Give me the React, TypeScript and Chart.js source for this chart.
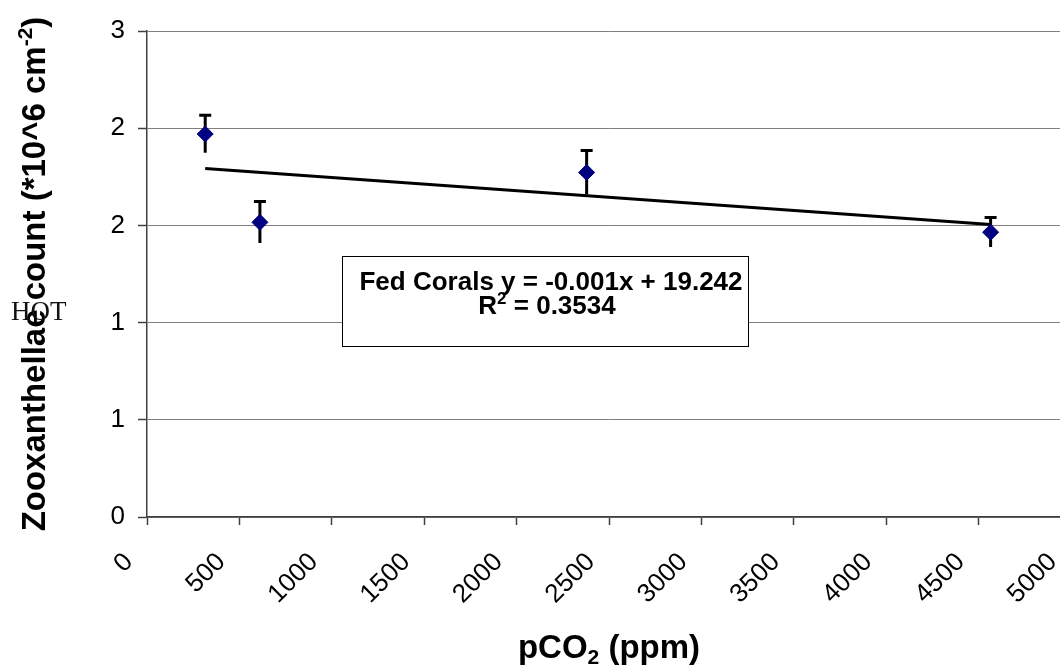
import React, { useEffect, useRef } from 'react';
import { Chart, registerables } from 'chart.js';

Chart.register(...registerables);

// ---- data ----
const pco2Values = [315, 611, 2379, 4565];
const zooxCounts = [2.364, 1.819, 2.127, 1.758];
const zooxErrors = [0.116, 0.128, 0.136, 0.091];

const xTickValues = [0, 500, 1000, 1500, 2000, 2500, 3000, 3500, 4000, 4500, 5000];
const yTickValues = [0, 0.6, 1.2, 1.8, 2.4, 3];
const yTickLabels = ['0', '1', '1', '2', '2', '3'];

const seriesName = 'Fed Corals';
const equationText = 'Fed Corals y = -0.001x + 19.242';
const rSquaredParts = ['R', '2', ' = 0.3534'];
const yTitleParts = ['Zooxanthellae count (*10^6 cm', '-2', ')'];
const xTitleParts = ['pCO', '2', ' (ppm)'];
const strayLabel = 'HOT';

const SANS = '"Liberation Sans", Arial, Helvetica, sans-serif';
const SERIF = '"Liberation Serif", "Times New Roman", serif';

function linearFit(xs: number[], ys: number[]) {
  const n = xs.length;
  const mx = xs.reduce((a, b) => a + b, 0) / n;
  const my = ys.reduce((a, b) => a + b, 0) / n;
  let sxy = 0;
  let sxx = 0;
  for (let i = 0; i < n; i++) {
    sxy += (xs[i] - mx) * (ys[i] - my);
    sxx += (xs[i] - mx) * (xs[i] - mx);
  }
  const slope = sxy / sxx;
  return { slope, intercept: my - slope * mx };
}

const CANVAS_W = 1091;
const CANVAS_H = 667;

export default function App() {
  const ref = useRef<HTMLCanvasElement | null>(null);

  useEffect(() => {
    const canvas = ref.current;
    if (!canvas) return;

    const fit = linearFit(pco2Values, zooxCounts);
    const xMin = Math.min(...pco2Values);
    const xMax = Math.max(...pco2Values);
    const trendData = [
      { x: xMin, y: fit.intercept + fit.slope * xMin },
      { x: xMax, y: fit.intercept + fit.slope * xMax },
    ];

    const errorBarPlugin = {
      id: 'errorBars',
      beforeDatasetsDraw(chart: any) {
        const { ctx } = chart;
        const xs = chart.scales.x;
        const ys = chart.scales.y;
        ctx.save();
        ctx.strokeStyle = '#000';
        ctx.lineWidth = 3;
        ctx.lineCap = 'butt';
        for (let i = 0; i < pco2Values.length; i++) {
          const px = xs.getPixelForValue(pco2Values[i]);
          const top = ys.getPixelForValue(zooxCounts[i] + zooxErrors[i]);
          const bot = ys.getPixelForValue(zooxCounts[i] - zooxErrors[i]);
          ctx.beginPath();
          ctx.moveTo(px, top);
          ctx.lineTo(px, bot);
          ctx.moveTo(px - 6, top);
          ctx.lineTo(px + 6, top);
          ctx.stroke();
        }
        ctx.restore();
      },
    };

    const drawParts = (
      ctx: CanvasRenderingContext2D,
      parts: string[],
      cx: number,
      baseline: number,
      size: number,
      scriptShift: number
    ) => {
      const main = `bold ${size}px ${SANS}`;
      const small = `bold ${Math.round(size * 0.64)}px ${SANS}`;
      ctx.font = main;
      const w0 = ctx.measureText(parts[0]).width;
      const w2 = ctx.measureText(parts[2]).width;
      ctx.font = small;
      const w1 = ctx.measureText(parts[1]).width;
      let x = cx - (w0 + w1 + w2) / 2;
      ctx.textAlign = 'left';
      ctx.textBaseline = 'alphabetic';
      ctx.font = main;
      ctx.fillText(parts[0], x, baseline);
      x += w0;
      ctx.font = small;
      ctx.fillText(parts[1], x, baseline + scriptShift);
      x += w1;
      ctx.font = main;
      ctx.fillText(parts[2], x, baseline);
    };

    const textPlugin = {
      id: 'textDecor',
      afterDraw(chart: any) {
        const { ctx, chartArea } = chart;
        ctx.save();
        ctx.fillStyle = '#000';

        // equation box
        const bx = 342.5, by = 256.5, bw = 406, bh = 90;
        ctx.fillStyle = '#fff';
        ctx.fillRect(bx, by, bw, bh);
        ctx.strokeStyle = '#000';
        ctx.lineWidth = 1;
        ctx.strokeRect(bx, by, bw, bh);
        ctx.fillStyle = '#000';
        ctx.font = `bold 26px ${SANS}`;
        ctx.textAlign = 'center';
        ctx.textBaseline = 'alphabetic';
        ctx.fillText(equationText, 551, 290);
        drawParts(ctx, rSquaredParts, 547, 314, 26, -10);

        // x title
        const cx = (chartArea.left + chartArea.right) / 2;
        drawParts(ctx, xTitleParts, cx, 658, 33, 6);

        // y title (rotated)
        ctx.save();
        ctx.translate(45, (chartArea.top + chartArea.bottom) / 2);
        ctx.rotate(-Math.PI / 2);
        drawParts(ctx, yTitleParts, 0, 0, 33, -13);
        ctx.restore();

        // stray serif label
        ctx.font = `27px ${SERIF}`;
        ctx.textAlign = 'left';
        ctx.textBaseline = 'alphabetic';
        ctx.fillStyle = '#111';
        ctx.fillText(strayLabel, 11, 320);
        ctx.restore();
      },
    };

    const chart = new Chart(canvas, {
      type: 'scatter',
      data: {
        datasets: [
          {
            label: seriesName,
            data: pco2Values.map((x, i) => ({ x, y: zooxCounts[i] })),
            pointStyle: 'rectRot',
            pointRadius: 8,
            pointHoverRadius: 8,
            backgroundColor: '#000080',
            borderColor: '#000080',
            borderWidth: 1,
            showLine: false,
            order: 0,
          },
          {
            label: 'Linear trend',
            data: trendData,
            showLine: true,
            borderColor: '#000',
            borderWidth: 3,
            pointRadius: 0,
            pointHoverRadius: 0,
            fill: false,
            order: 1,
          },
        ],
      },
      options: {
        responsive: false,
        animation: false,
        devicePixelRatio: 1,
        events: [],
        layout: { padding: { top: 31, right: 20, bottom: 0, left: 0 } },
        plugins: { legend: { display: false }, tooltip: { enabled: false } },
        scales: {
          x: {
            type: 'linear',
            min: 0,
            max: 5000,
            afterBuildTicks: (s: any) => {
              s.ticks = xTickValues.map((v) => ({ value: v }));
            },
            afterFit: (s: any) => {
              s.height = 150;
              s.paddingLeft = 0;
              s.paddingRight = 0;
            },
            ticks: {
              autoSkip: false,
              minRotation: 45,
              maxRotation: 45,
              padding: 22,
              labelOffset: -18,
              color: '#000',
              font: { family: SANS, size: 26 },
              callback: (v: any) => String(v),
            },
            grid: {
              drawOnChartArea: false,
              drawTicks: true,
              tickLength: 8,
              tickColor: '#404040',
              tickWidth: 1.5,
            },
            border: { color: '#404040', width: 1.5 },
          },
          y: {
            type: 'linear',
            min: 0,
            max: 3,
            afterBuildTicks: (s: any) => {
              s.ticks = yTickValues.map((v) => ({ value: v }));
            },
            afterFit: (s: any) => {
              s.width = 147;
              s.paddingTop = 0;
              s.paddingBottom = 0;
            },
            ticks: {
              padding: 13,
              color: '#000',
              font: { family: SANS, size: 26 },
              callback: (_v: any, i: number) => yTickLabels[i],
            },
            grid: {
              color: '#808080',
              lineWidth: 1,
              drawTicks: true,
              tickLength: 9,
              tickColor: '#404040',
              tickWidth: 1.5,
            },
            border: { color: '#404040', width: 1.5 },
          },
        },
      },
      plugins: [errorBarPlugin, textPlugin],
    } as any);

    return () => chart.destroy();
  }, []);

  return (
    <div
      style={{
        position: 'absolute',
        left: 0,
        top: 0,
        width: 1060,
        height: 667,
        overflow: 'hidden',
        background: '#fff',
      }}
    >
      <canvas ref={ref} width={CANVAS_W} height={CANVAS_H} style={{ display: 'block' }} />
    </div>
  );
}
